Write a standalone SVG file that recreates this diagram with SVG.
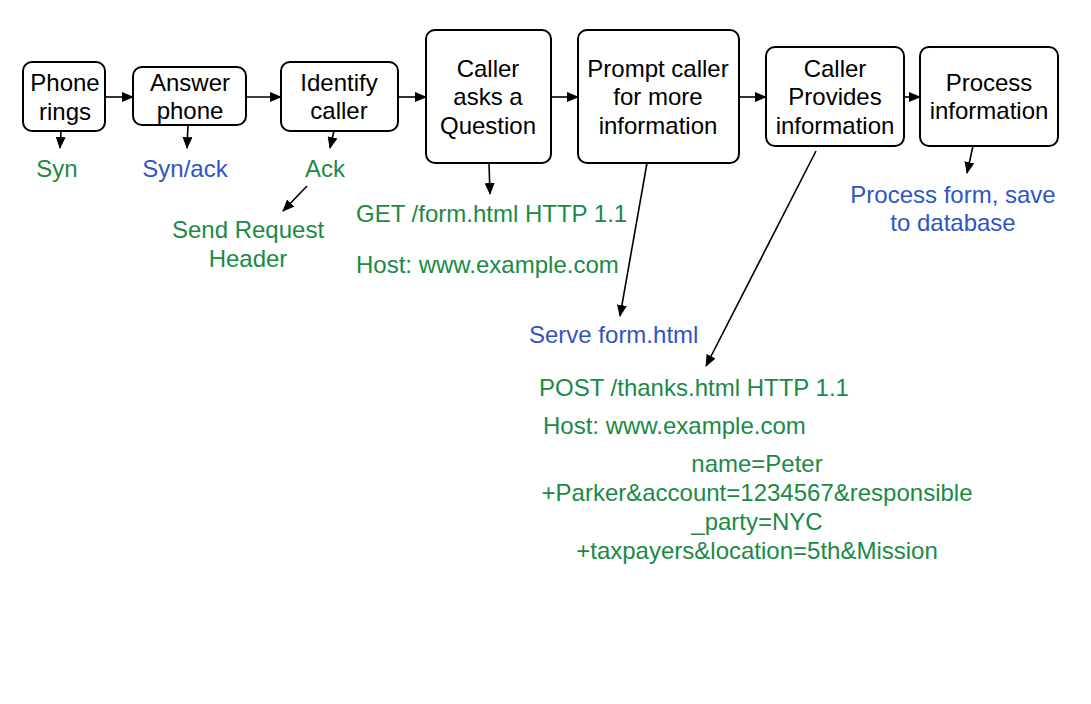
<svg xmlns="http://www.w3.org/2000/svg" width="1091" height="704" viewBox="0 0 1091 704">
<defs>
<marker id="ah" markerUnits="userSpaceOnUse" markerWidth="12" markerHeight="10" refX="11" refY="5" orient="auto">
<path d="M0,0 L12,5 L0,10 Z" fill="#000"/>
</marker>
<style>
.box{fill:#fff;stroke:#000;stroke-width:2}
.t{font-family:"Liberation Sans",Arial,Helvetica,sans-serif;font-size:24px;text-anchor:middle;fill:#000}
.g{fill:#1b8a45}
.b{fill:#2f55c4}
.s{text-anchor:start}
.c{stroke:#000;stroke-width:1.6;fill:none;marker-end:url(#ah)}
</style>
</defs>
<rect width="1091" height="704" fill="#fff"/>
<g id="connectors">
<line class="c" x1="105" y1="97" x2="133" y2="97"/>
<line class="c" x1="246" y1="97" x2="281" y2="97"/>
<line class="c" x1="398" y1="97" x2="426" y2="97"/>
<line class="c" x1="551" y1="97" x2="578" y2="97"/>
<line class="c" x1="739" y1="97" x2="766" y2="97"/>
<line class="c" x1="904" y1="97" x2="920" y2="97"/>
<line class="c" x1="61" y1="131" x2="60" y2="148"/>
<line class="c" x1="188" y1="125" x2="187" y2="148"/>
<line class="c" x1="334" y1="131" x2="330" y2="148"/>
<line class="c" x1="307" y1="186" x2="283" y2="211"/>
<line class="c" x1="489" y1="163" x2="490" y2="194"/>
<line class="c" x1="647" y1="163" x2="620" y2="316"/>
<line class="c" x1="816" y1="151" x2="706" y2="366"/>
<line class="c" x1="973" y1="146" x2="967" y2="173"/>
</g>
<g id="n1"><rect class="box" x="23" y="62" width="82" height="69" rx="9"/>
<text class="t" x="65" y="91">Phone</text><text class="t" x="65" y="120">rings</text></g>
<g id="n2"><rect class="box" x="133" y="67" width="113" height="58" rx="9"/>
<text class="t" x="190" y="91">Answer</text><text class="t" x="190" y="119">phone</text></g>
<g id="n3"><rect class="box" x="281" y="62" width="117" height="69" rx="9"/>
<text class="t" x="339" y="91">Identify</text><text class="t" x="339" y="119">caller</text></g>
<g id="n4"><rect class="box" x="426" y="30" width="125" height="133" rx="9"/>
<text class="t" x="488" y="77">Caller</text><text class="t" x="488" y="105">asks a</text><text class="t" x="488" y="134">Question</text></g>
<g id="n5"><rect class="box" x="578" y="30" width="161" height="133" rx="9"/>
<text class="t" x="658" y="77">Prompt caller</text><text class="t" x="658" y="105">for more</text><text class="t" x="658" y="134">information</text></g>
<g id="n6"><rect class="box" x="766" y="47" width="138" height="99" rx="9"/>
<text class="t" x="835" y="77">Caller</text><text class="t" x="835" y="105">Provides</text><text class="t" x="835" y="134">information</text></g>
<g id="n7"><rect class="box" x="920" y="47" width="138" height="99" rx="9"/>
<text class="t" x="989" y="91">Process</text><text class="t" x="989" y="119">information</text></g>
<g id="labels">
<text class="t g" x="57" y="177">Syn</text>
<text class="t b" x="185" y="177">Syn/ack</text>
<text class="t g" x="325" y="177">Ack</text>
<text class="t g" x="248" y="238">Send Request</text>
<text class="t g" x="248" y="267">Header</text>
<text class="t g s" x="356" y="222">GET /form.html HTTP 1.1</text>
<text class="t g s" x="356" y="273">Host: www.example.com</text>
<text class="t b s" x="529" y="343">Serve form.html</text>
<text class="t b" x="953" y="203">Process form, save</text>
<text class="t b" x="953" y="231">to database</text>
<text class="t g s" x="539" y="396">POST /thanks.html HTTP 1.1</text>
<text class="t g s" x="543" y="434">Host: www.example.com</text>
<text class="t g" x="757" y="472">name=Peter</text>
<text class="t g" x="757" y="501">+Parker&amp;account=1234567&amp;responsible</text>
<text class="t g" x="757" y="530">_party=NYC</text>
<text class="t g" x="757" y="559">+taxpayers&amp;location=5th&amp;Mission</text>
</g>
</svg>
